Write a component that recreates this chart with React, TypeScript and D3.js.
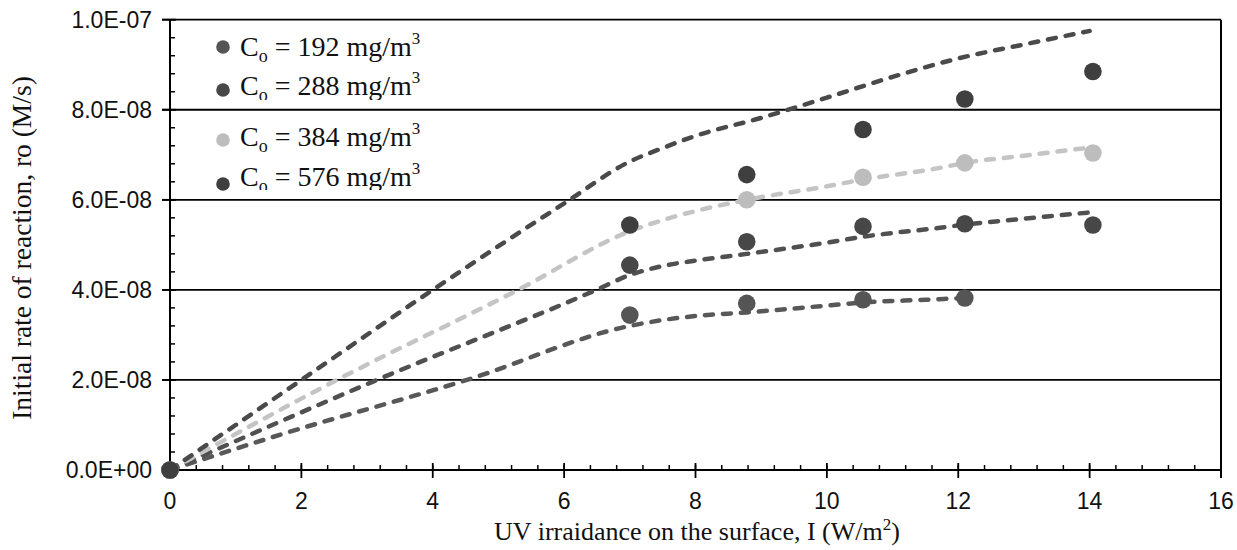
import React from "react";
import * as d3 from "d3";

const W = 1237;
const H = 550;

const xTicks = [0, 2, 4, 6, 8, 10, 12, 14, 16];
const yTicks = [0, 2e-8, 4e-8, 6e-8, 8e-8, 1e-7];
const yTickLabels = ["0.0E+00", "2.0E-08", "4.0E-08", "6.0E-08", "8.0E-08", "1.0E-07"];

const seriesNames = ["192", "288", "384", "576"];
const pointColors = ["#555555", "#474747", "#bdbdbd", "#3f3f3f"];
const lineColors = ["#585858", "#505050", "#c4c4c4", "#4a4a4a"];

// measured points (x in W/m2, y in 1e-8 M/s)
const pts192: [number, number][] = [[0, 0], [7, 3.44], [8.78, 3.7], [10.55, 3.78], [12.1, 3.82]];
const pts288: [number, number][] = [[0, 0], [7, 4.55], [8.78, 5.07], [10.55, 5.41], [12.1, 5.47], [14.05, 5.44]];
const pts384: [number, number][] = [[0, 0], [8.78, 6.0], [10.55, 6.5], [12.1, 6.82], [14.05, 7.04]];
const pts576: [number, number][] = [[0, 0], [7, 5.44], [8.78, 6.56], [10.55, 7.56], [12.1, 8.24], [14.05, 8.85]];

// model curves (dashed)
const fit192: [number, number][] = [[0, 0], [1.67, 0.78], [4.52, 2.0], [7, 3.2], [7.5, 3.33], [8, 3.42], [8.78, 3.5], [10, 3.65], [10.55, 3.72], [11.5, 3.78], [12.1, 3.82]];
const fit288: [number, number][] = [[0, 0], [3.15, 2.0], [6.49, 4.0], [7, 4.33], [7.5, 4.53], [8, 4.65], [8.78, 4.8], [10, 5.05], [10.55, 5.18], [11.72, 5.38], [12.1, 5.45], [13, 5.58], [14, 5.72]];
const fit384: [number, number][] = [[0, 0], [2.54, 2.0], [5.3, 4.0], [7, 5.3], [7.5, 5.55], [8, 5.75], [8.78, 6.0], [10, 6.3], [10.55, 6.45], [11.72, 6.71], [12.1, 6.82], [13, 6.98], [14, 7.16]];
const fit576: [number, number][] = [[0, 0], [2, 2.0], [4, 4.0], [6, 5.92], [7, 6.85], [7.5, 7.15], [8, 7.42], [9, 7.82], [10, 8.27], [11, 8.73], [12, 9.14], [13, 9.45], [14, 9.75]];

const allPts = [pts192, pts288, pts384, pts576];
const allFits = [fit192, fit288, fit384, fit576];
const legendMarkerY = [47, 90, 140, 184];
const legendBaseY = [56, 95, 146, 186];
const legendClipY = [200, 100, 200, 190];

export default function App() {
  const x = d3.scaleLinear().domain([0, 16]).range([170, 1221]);
  const y = d3.scaleLinear().domain([0, 1e-7]).range([470, 19.7]);
  const line = d3
    .line<[number, number]>()
    .x((d) => x(d[0]))
    .y((d) => y(d[1] * 1e-8))
    .curve(d3.curveMonotoneX);

  const xMinor = d3.range(0, 16.001, 0.4);
  const yMinor = d3.range(0, 1.0001e-7, 4e-9);

  const serif = "'Liberation Serif', 'Times New Roman', serif";
  const sans = "'Liberation Sans', Arial, sans-serif";

  return (
    <svg
      width={W}
      height={H}
      style={{ position: "absolute", left: 0, top: 0, background: "#fff" }}
    >
      <defs>
        {legendClipY.map((c, i) => (
          <clipPath key={"cp" + i} id={"legclip" + i}>
            <rect x={200} y={0} width={300} height={c} />
          </clipPath>
        ))}
      </defs>
      <rect x={0} y={0} width={W} height={H} fill="#fff" />
      {/* gridlines */}
      {yTicks.slice(1).map((t) => (
        <line key={"g" + t} x1={x(0) - 8} x2={x(16)} y1={y(t)} y2={y(t)} stroke="#000" strokeWidth={1.8} />
      ))}
      {/* right border */}
      <line x1={x(16)} x2={x(16)} y1={y(1e-7)} y2={y(0) + 8} stroke="#000" strokeWidth={2} />
      {/* y axis */}
      <line x1={x(0)} x2={x(0)} y1={y(1e-7)} y2={y(0)} stroke="#000" strokeWidth={2} />
      {yMinor.map((t, i) => (
        <line key={"ym" + i} x1={x(0)} x2={x(0) + 5} y1={y(t)} y2={y(t)} stroke="#000" strokeWidth={1.5} />
      ))}
      {yTicks.map((t) => (
        <line key={"yM" + t} x1={x(0) - 8} x2={x(0) + 6} y1={y(t)} y2={y(t)} stroke="#000" strokeWidth={1.8} />
      ))}
      {/* x axis */}
      <line x1={x(0) - 8} x2={x(16)} y1={y(0)} y2={y(0)} stroke="#000" strokeWidth={2} />
      {xMinor.map((t, i) => (
        <line key={"xm" + i} x1={x(t)} x2={x(t)} y1={y(0)} y2={y(0) - 5} stroke="#000" strokeWidth={1.5} />
      ))}
      {xTicks.map((t) => (
        <line key={"xM" + t} x1={x(t)} x2={x(t)} y1={y(0) - 7} y2={y(0) + 8} stroke="#000" strokeWidth={1.8} />
      ))}
      {/* tick labels */}
      {yTicks.map((t, i) => (
        <text key={"yl" + t} x={152} y={y(t)} dy="0.36em" textAnchor="end" fontFamily={sans} fontSize={23} fill="#111">
          {yTickLabels[i]}
        </text>
      ))}
      {xTicks.map((t) => (
        <text key={"xl" + t} x={x(t)} y={501} dy="0.36em" textAnchor="middle" fontFamily={sans} fontSize={23} fill="#111">
          {t}
        </text>
      ))}
      {/* axis titles */}
      <text x={697} y={540} textAnchor="middle" fontFamily={serif} fontSize={26} fill="#111">
        UV irraidance on the surface, I (W/m
        <tspan dy={-10} fontSize={17}>2</tspan>
        <tspan dy={10}>)</tspan>
      </text>
      <text
        transform={`translate(31,${248}) rotate(-90)`}
        textAnchor="middle"
        fontFamily={serif}
        fontSize={27.5}
        fill="#111"
      >
        Initial rate of reaction, ro (M/s)
      </text>
      {/* fitted lines */}
      {allFits.map((f, i) => (
        <path
          key={"f" + i}
          d={line(f) || ""}
          fill="none"
          stroke={lineColors[i]}
          strokeWidth={4.5}
          strokeDasharray="8 10"
          strokeLinecap="round"
        />
      ))}
      {/* points */}
      {allPts.map((p, i) =>
        p.map((d, j) => (
          <circle key={"p" + i + "-" + j} cx={x(d[0])} cy={y(d[1] * 1e-8)} r={8.8} fill={pointColors[i]} />
        ))
      )}
      {/* legend */}
      {seriesNames.map((n, i) => (
        <g key={"lg" + n}>
          <circle cx={223} cy={legendMarkerY[i]} r={6.8} fill={pointColors[i]} />
          <text
            x={240}
            y={legendBaseY[i]}
            fontFamily={serif}
            fontSize={28}
            fill="#111"
            clipPath={`url(#legclip${i})`}
          >
            C
            <tspan dy={6} fontSize={18}>o</tspan>
            <tspan dy={-6}>{` = ${n} mg/m`}</tspan>
            <tspan dy={-12} fontSize={17}>3</tspan>
          </text>
        </g>
      ))}
    </svg>
  );
}
